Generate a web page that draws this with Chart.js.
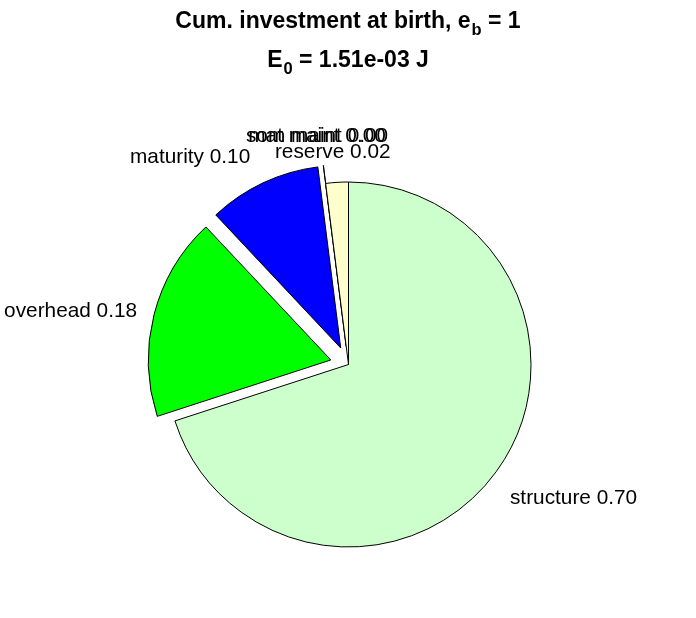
<!DOCTYPE html>
<html>
<head>
<meta charset="utf-8">
<script src="https://cdn.jsdelivr.net/npm/chart.js@4/dist/chart.umd.min.js"></script>
<style>
  html, body { margin: 0; padding: 0; background: #fff; }
  #wrap { width: 696px; height: 618px; }
</style>
</head>
<body>
<div id="wrap"><canvas id="c" width="696" height="618"></canvas></div>
<script>
// ---- data ----
const categories = ['structure', 'overhead', 'maturity', 'som maint', 'mat maint', 'reserve'];
const shares = [0.70, 0.18, 0.10, 0.00, 0.00, 0.02];
const exploded = [false, true, true, true, true, false];
const sliceColors = ['#CCFFCC', '#00FF00', '#0000FF', '#FF8080', '#8080FF', '#FFFFCC'];
const titleLine1 = ['Cum. investment at birth, e', 'b', ' = 1'];
const titleLine2 = ['E', '0', ' = 1.51e-03 J'];

const FONT = '"Liberation Sans", Arial, Helvetica, sans-serif';

// explode slices (MATLAB style, 0.1 of radius) and draw zero slices as a line
const explodePlugin = {
  id: 'explodePie',
  beforeDatasetsDraw(chart) {
    const meta = chart.getDatasetMeta(0);
    meta.data.forEach((arc, i) => {
      if (arc.$wrapped) return;
      const orig = Chart.ArcElement.prototype.draw;
      arc.draw = function (ctx, area) {
        const mid = (this.startAngle + this.endAngle) / 2;
        const d = exploded[i] ? 0.1 * this.outerRadius : 0;
        ctx.save();
        ctx.translate(Math.cos(mid) * d, Math.sin(mid) * d);
        if (this.circumference === 0) {
          ctx.beginPath();
          ctx.moveTo(this.x, this.y);
          ctx.lineTo(this.x + Math.cos(mid) * this.outerRadius, this.y + Math.sin(mid) * this.outerRadius);
          ctx.strokeStyle = this.options.borderColor;
          ctx.lineWidth = this.options.borderWidth;
          ctx.stroke();
        } else {
          orig.call(this, ctx, area);
        }
        ctx.restore();
      };
      arc.$wrapped = true;
    });
  }
};

// slice labels "name value" placed at 1.2 radius along the slice mid angle
const labelPlugin = {
  id: 'pieLabels',
  afterDatasetsDraw(chart, args, opts) {
    const ctx = chart.ctx;
    const meta = chart.getDatasetMeta(0);
    ctx.save();
    ctx.font = opts.size + 'px ' + FONT;
    ctx.fillStyle = '#000';
    ctx.textBaseline = 'alphabetic';
    meta.data.forEach((arc, i) => {
      const mid = (arc.startAngle + arc.endAngle) / 2;
      const cx = Math.cos(mid), cy = Math.sin(mid);
      const x = arc.x + 1.2 * arc.outerRadius * cx;
      const y = arc.y + 1.2 * arc.outerRadius * cy;
      ctx.textAlign = cx > 0.3 ? 'left' : (cx < -0.3 ? 'right' : 'center');
      const n = opts.nudge[i] || [0, 0];
      ctx.fillText(categories[i] + ' ' + shares[i].toFixed(2), x + n[0], y + n[1]);
    });
    ctx.restore();
  }
};

// bold two-line title with subscripts
const titlePlugin = {
  id: 'subTitle',
  afterDraw(chart) {
    const ctx = chart.ctx;
    const big = 'bold 23px ' + FONT, small = 'bold 16.5px ' + FONT;
    function line(parts, base) {
      ctx.font = big; const w0 = ctx.measureText(parts[0]).width; const w2 = ctx.measureText(parts[2]).width;
      ctx.font = small; const w1 = ctx.measureText(parts[1]).width;
      let x = 348 - (w0 + w1 + w2 + 1) / 2;
      ctx.textAlign = 'left'; ctx.textBaseline = 'alphabetic'; ctx.fillStyle = '#000';
      ctx.font = big; ctx.fillText(parts[0], x, base); x += w0;
      ctx.font = small; ctx.fillText(parts[1], x + 1, base + 7); x += w1 + 1;
      ctx.font = big; ctx.fillText(parts[2], x, base);
    }
    ctx.save();
    line(titleLine1, 28);
    line(titleLine2, 67);
    ctx.restore();
  }
};

new Chart(document.getElementById('c'), {
  type: 'pie',
  data: {
    labels: categories,
    datasets: [{
      data: shares,
      backgroundColor: sliceColors,
      borderColor: '#000',
      borderWidth: 1,
      borderJoinStyle: 'miter'
    }]
  },
  options: {
    responsive: false,
    animation: false,
    events: [],
    radius: 182.5,
    layout: { padding: { top: 111, left: 1, right: 0, bottom: 0 } },
    plugins: {
      legend: { display: false },
      title: { display: false },
      tooltip: { enabled: false },
      pieLabels: {
        size: 20.8,
        nudge: [[-15.7, 10.7], [0.7, 7], [-5, -3], [-4, -5], [-4, -5], [-2, 11.6]]
      }
    }
  },
  plugins: [explodePlugin, labelPlugin, titlePlugin]
});
</script>
</body>
</html>
